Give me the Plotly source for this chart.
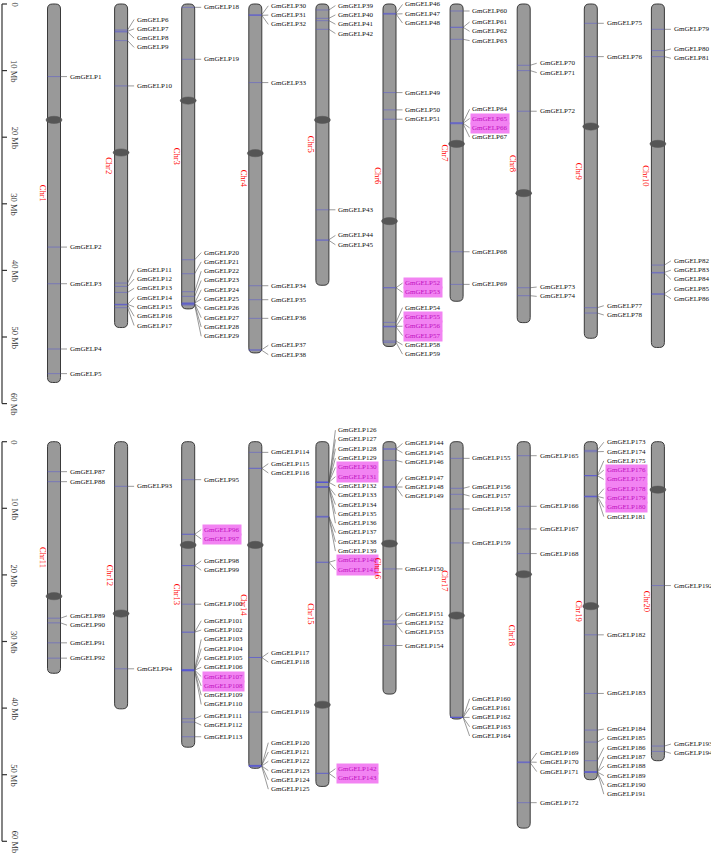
import plotly.graph_objects as go

# chromosome data (Mb)
CHR_NAMES = ["Chr%d" % i for i in range(1, 21)]
CHR_LEN = [56.83, 48.58, 45.78, 52.39, 42.23, 51.42, 44.63, 47.84, 50.19, 51.57,
           34.77, 40.11, 45.87, 49.04, 51.76, 37.89, 41.64, 58.02, 50.75, 47.90]
CENTROMERE = [17.4, 22.3, 14.5, 22.4, 17.4, 32.6, 21.0, 28.4, 18.4, 21.0,
              23.2, 25.8, 15.5, 15.5, 39.5, 15.3, 26.1, 19.9, 24.7, 7.2]

# gene positions per chromosome (Mb), genes numbered GmGELP1..194 in order
GENE_POS = [
    [10.9, 36.5, 42.0, 51.8, 55.5],
    [3.9, 4.1, 4.2, 5.5, 12.3, 41.9, 42.4, 43.3, 45.1, 45.1, 45.2, 45.6],
    [0.5, 8.3, 38.4, 40.5, 43.2, 43.9, 44.9, 44.9, 45.0, 45.0, 45.1, 45.2],
    [1.6, 1.7, 1.7, 11.8, 42.3, 44.4, 47.2, 51.9, 52.0],
    [0.9, 2.15, 2.5, 3.8, 30.9, 35.4, 35.5],
    [1.4, 1.5, 1.5, 13.3, 15.9, 17.3, 42.6, 42.6, 47.8, 48.4, 48.4, 48.5, 50.6, 50.8],
    [1.05, 3.5, 3.5, 5.3, 17.8, 17.9, 17.9, 18.0, 37.2, 42.1],
    [9.2, 10.0, 16.1, 42.6, 43.8],
    [2.9, 7.9, 45.6, 46.4],
    [3.8, 7.0, 7.9, 39.2, 40.3, 40.4, 43.5, 43.6],
    [4.5, 6.0, 26.5, 27.2, 30.2, 32.5],
    [6.7, 34.1],
    [5.7, 13.9, 13.9, 18.6, 18.6, 24.4, 28.6, 28.6,
     34.2, 34.3, 34.3, 34.3, 34.3, 34.3, 34.4, 34.4, 41.6, 42.1, 44.3],
    [1.6, 4.0, 4.0, 32.4, 32.4, 40.6, 48.6, 48.6, 48.7, 48.7, 48.7, 48.8],
    [6.1, 6.1, 6.1, 6.1, 6.1, 6.1, 6.1, 6.8, 6.8, 6.8, 6.8, 11.2, 11.3, 11.3,
     18.1, 18.1, 49.8, 49.8],
    [1.1, 1.1, 2.8, 6.8, 6.8, 6.8, 19.1, 26.9, 27.4, 27.4, 30.6],
    [2.5, 7.0, 7.9, 10.1, 15.2, 41.4, 41.4, 41.4, 41.4, 41.4],
    [2.1, 9.7, 13.1, 16.8, 48.1, 48.1, 48.2, 54.2],
    [1.3, 1.5, 5.1, 5.1, 5.1, 8.2, 8.2, 8.2, 8.3, 29.0, 37.8, 43.3, 45.1, 47.9,
     49.6, 49.6, 49.6, 49.6, 49.6],
    [21.6, 45.7, 46.5],
]

# tandem duplicated genes (highlighted)
HIGHLIGHT = [52, 53, 55, 56, 57, 65, 66, 96, 97, 107, 108, 130, 131,
             140, 141, 142, 143, 176, 177, 178, 179, 180]

SCALE_TICKS = [0, 10, 20, 30, 40, 50, 60]
SCALE_LABELS = ["0", "10 Mb", "20 Mb", "30 Mb", "40 Mb", "50 Mb", "60 Mb"]

# layout constants (pixels)
W, H = 711, 857
K = 6.66            # px per Mb
TOP0, BOT0 = 4.0, 441.7
CHR_X0, CHR_DX = 54.0, 67.1
CHR_W = 13.0
LABEL_GAP = 9.3 / K

FONT = "Liberation Serif"


def place_labels(pos, gap):
    groups = [[p] for p in pos]

    def center(g):
        return sum(g) / len(g)

    changed = True
    while changed:
        changed = False
        out = []
        for g in groups:
            if out:
                prev = out[-1]
                prev_bot = center(prev) + (len(prev) - 1) / 2 * gap
                top = center(g) - (len(g) - 1) / 2 * gap
                if top - prev_bot < gap - 1e-9:
                    out[-1] = prev + g
                    changed = True
                    continue
            out.append(g)
        groups = out
    res = []
    for g in groups:
        c = center(g)
        for i in range(len(g)):
            res.append(c + (i - (len(g) - 1) / 2) * gap)
    return res


def capsule(xl, xr, y0, y1, rx, ry):
    return ("M %f,%f Q %f,%f %f,%f L %f,%f Q %f,%f %f,%f L %f,%f "
            "Q %f,%f %f,%f L %f,%f Q %f,%f %f,%f Z" % (
                xl, y0 + ry, xl, y0, xl + rx, y0, xr - rx, y0, xr, y0, xr, y0 + ry,
                xr, y1 - ry, xr, y1, xr - rx, y1, xl + rx, y1, xl, y1, xl, y1 - ry))


fig = go.Figure()
shapes = []
annotations = []

gene_no = 0
for panel, yref in enumerate(["y", "y2"]):
    conn_x, conn_y, mark_x, mark_y = [], [], [], []
    for col in range(10):
        ci = panel * 10 + col
        cx = CHR_X0 + CHR_DX * col
        length = CHR_LEN[ci]
        shapes.append(dict(type="path", xref="x", yref=yref, layer="below",
                           path=capsule(cx - CHR_W / 2, cx + CHR_W / 2, 0, length, 5, 5 / K),
                           fillcolor="#999999", line=dict(color="#3a3a3a", width=1)))
        shapes.append(dict(type="circle", xref="x", yref=yref, layer="below",
                           x0=cx - 8, x1=cx + 8,
                           y0=CENTROMERE[ci] - 3.6 / K, y1=CENTROMERE[ci] + 3.6 / K,
                           fillcolor="#555555", line=dict(color="#555555", width=0.5)))
        annotations.append(dict(x=cx - 11.5, y=length / 2, xref="x", yref=yref,
                                text=CHR_NAMES[ci], showarrow=False, textangle=90,
                                font=dict(family=FONT, size=8.5, color="#ff0000"),
                                xanchor="center", yanchor="middle"))
        genes = GENE_POS[ci]
        lab = place_labels(genes, LABEL_GAP)
        for g, ly in zip(genes, lab):
            gene_no += 1
            mark_x += [cx - CHR_W / 2, cx + CHR_W / 2, None]
            mark_y += [g, g, None]
            conn_x += [cx + CHR_W / 2, cx + CHR_W / 2 + 6.5, None]
            conn_y += [g, ly, None]
            hl = gene_no in HIGHLIGHT
            annotations.append(dict(
                x=cx + CHR_W / 2 + 7.3, y=ly, xref="x", yref=yref,
                text="GmGELP%d" % gene_no, showarrow=False,
                xanchor="left", yanchor="middle", borderpad=1,
                bgcolor="#f283f2" if hl else "rgba(0,0,0,0)",
                font=dict(family=FONT, size=7, color="#c010c0" if hl else "#111111")))
    fig.add_trace(go.Scatter(x=mark_x, y=mark_y, mode="lines", yaxis=yref,
                             line=dict(color="rgba(85,85,215,0.6)", width=0.8),
                             hoverinfo="skip", showlegend=False))
    fig.add_trace(go.Scatter(x=conn_x, y=conn_y, mode="lines", yaxis=yref,
                             line=dict(color="#555555", width=0.6),
                             hoverinfo="skip", showlegend=False))

    # scale ruler
    shapes.append(dict(type="line", xref="x", yref=yref, x0=2, x1=2,
                       y0=SCALE_TICKS[0], y1=SCALE_TICKS[-1],
                       line=dict(color="#333333", width=1.2)))
    for t, s in zip(SCALE_TICKS, SCALE_LABELS):
        shapes.append(dict(type="line", xref="x", yref=yref, x0=2, x1=7, y0=t, y1=t,
                           line=dict(color="#333333", width=1.2)))
        annotations.append(dict(x=14.5, y=t, xref="x", yref=yref, text=s,
                                showarrow=False, textangle=90,
                                xanchor="center", yanchor="middle",
                                font=dict(family=FONT, size=8.5, color="#333333")))

top_px, bot_px = 430, 355
fig.update_layout(
    width=W, height=H,
    margin=dict(l=0, r=0, t=0, b=0),
    paper_bgcolor="white", plot_bgcolor="rgba(0,0,0,0)",
    showlegend=False,
    xaxis=dict(range=[0, W], domain=[0, 1], visible=False, fixedrange=True),
    yaxis=dict(domain=[1 - top_px / H, 1], range=[(top_px - TOP0) / K, -TOP0 / K],
               visible=False, anchor="x", fixedrange=True),
    yaxis2=dict(domain=[0, 1 - bot_px / H], range=[(H - BOT0) / K, (bot_px - BOT0) / K],
                visible=False, anchor="x", fixedrange=True),
    shapes=shapes,
    annotations=annotations,
)

# drop the default page margin so the figure sits at the window corner
fig.write_html("out.html", config={"displayModeBar": False},
               post_script="document.body.style.margin='0';")
